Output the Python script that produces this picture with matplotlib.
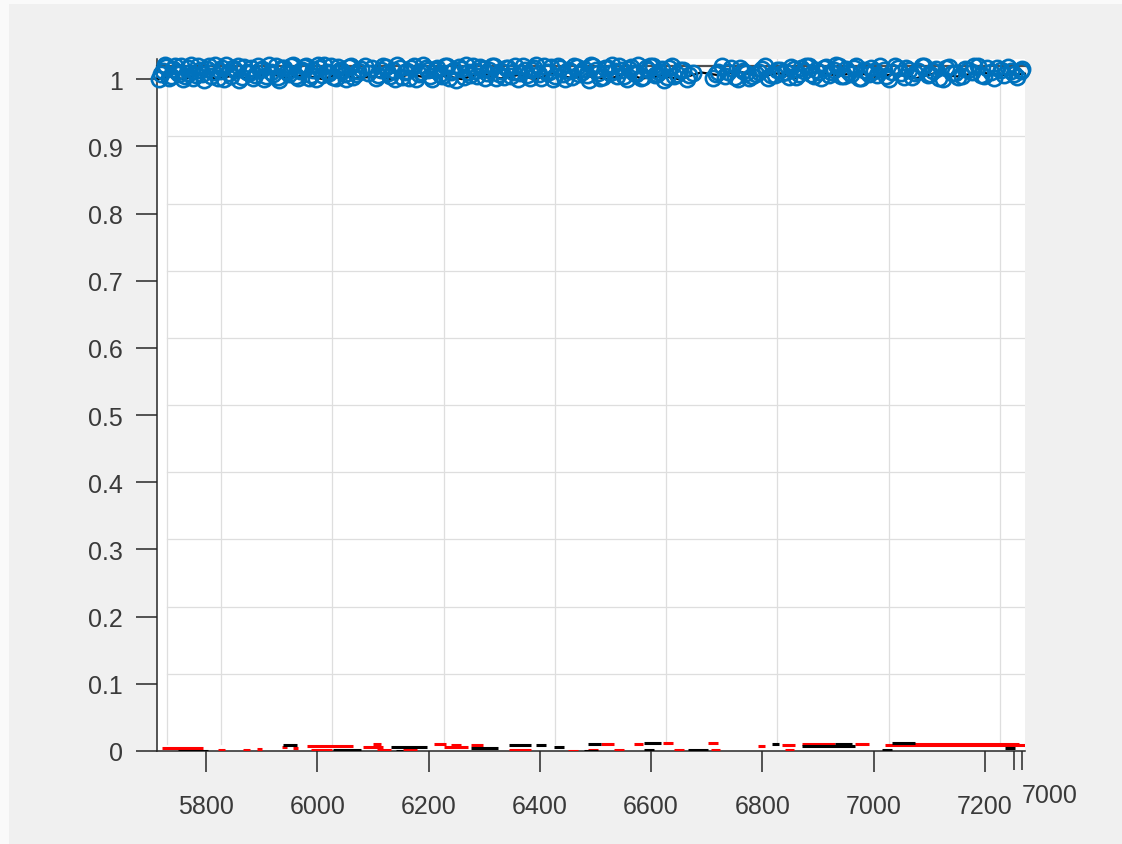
"""Recreate a MATLAB-style 3D scatter viewed nearly head on."""

from __future__ import annotations

import matplotlib

matplotlib.use("Agg")
import matplotlib.pyplot as plt
from matplotlib.patches import Rectangle
from matplotlib.transforms import ScaledTranslation

# blue circles along the top (value ~1), two interleaved batches
blue_x = [
    5716, 5723, 5729, 5737, 5744, 5752, 5758, 5767, 5773, 5782, 5790, 5797,
    5806, 5812, 5821, 5829, 5836, 5845, 5853, 5860, 5869, 5877, 5884, 5893,
    5901, 5908, 5917, 5925, 5932, 5941, 5949, 5956, 5965, 5973, 5980, 5989,
    5997, 6004, 6013, 6021, 6028, 6037, 6045, 6052, 6061, 6069, 6078, 6092,
    6106, 6115, 6124, 6131, 6140, 6149, 6157, 6165, 6173, 6182, 6190, 6199,
    6207, 6216, 6224, 6233, 6241, 6250, 6258, 6267, 6275, 6284, 6292, 6301,
    6309, 6318, 6326, 6335, 6343, 6352, 6360, 6369, 6377, 6386, 6394, 6403,
    6411, 6420, 6428, 6437, 6445, 6454, 6462, 6471, 6479, 6488, 6496, 6505,
    6513, 6522, 6530, 6539, 6547, 6556, 6564, 6573, 6581, 6590, 6598, 6607,
    6615, 6624, 6632, 6641, 6652, 6664, 6675, 6712, 6721, 6733, 6744, 6756,
    6765, 6776, 6788, 6799, 6810, 6822, 6831, 6842, 6851, 6860, 6869, 6878,
    6887, 6896, 6905, 6914, 6923, 6932, 6941, 6950, 6959, 6968, 6977, 6986,
    6995, 7006, 7018, 7027, 7038, 7049, 7058, 7069, 7080, 7091, 7102, 7112,
    7124, 7135, 7147, 7158, 7170, 7181, 7193, 7204, 7216, 7229, 7241, 7252,
    7264,
]
blue_y = [
    1.000, 1.012, 1.018, 1.004, 1.020, 1.008, 1.000, 1.016, 1.021, 1.006,
    1.014, 0.999, 1.019, 1.010, 1.002, 1.017, 1.021, 1.005, 1.013, 0.998,
    1.018, 1.009, 1.001, 1.020, 1.015, 1.004, 1.011, 1.019, 0.999, 1.016,
    1.007, 1.021, 1.002, 1.014, 1.019, 1.006, 1.000, 1.017, 1.021, 1.009,
    1.003, 1.018, 1.012, 1.000, 1.020, 1.007, 1.015, 1.009, 1.002, 1.013,
    1.018, 1.005, 1.000, 1.016, 1.010, 1.002, 1.019, 1.007, 1.021, 1.013,
    1.000, 1.017, 1.004, 1.020, 1.011, 0.999, 1.015, 1.021, 1.006, 1.012,
    1.018, 1.001, 1.014, 1.020, 1.008, 1.003, 1.017, 1.011, 1.000, 1.019,
    1.006, 1.014, 1.021, 1.002, 1.010, 1.018, 1.004, 1.016, 1.000, 1.012,
    1.020, 1.007, 1.015, 0.999, 1.019, 1.009, 1.003, 1.017, 1.021, 1.005,
    1.013, 1.000, 1.018, 1.008, 1.002, 1.016, 1.020, 1.006, 1.011, 0.999,
    1.017, 1.004, 1.014, 1.000, 1.009, 1.002, 1.011, 1.004, 1.016, 1.000,
    1.012, 1.002, 1.008, 1.015, 1.001, 1.006, 1.013, 1.010, 1.018, 1.003,
    1.016, 1.020, 1.007, 1.013, 1.001, 1.018, 1.010, 1.021, 1.004, 1.015,
    1.008, 1.019, 1.002, 1.012, 1.017, 1.006, 1.014, 1.000, 1.019, 1.009,
    1.016, 1.003, 1.012, 1.019, 1.007, 1.015, 1.000, 1.018, 1.009, 1.004,
    1.014, 1.019, 1.006, 1.016, 1.002, 1.013, 1.018, 1.007, 1.012,
]
blue_x2 = [
    5719, 5726, 5733, 5741, 5748, 5755, 5762, 5770, 5777, 5786, 5793, 5801,
    5809, 5817, 5825, 5833, 5841, 5849, 5857, 5865, 5873, 5881, 5889, 5897,
    5905, 5913, 5921, 5929, 5937, 5945, 5953, 5961, 5969, 5977, 5985, 5993,
    6001, 6009, 6017, 6025, 6033, 6041, 6049, 6057, 6065, 6073, 6085, 6099,
    6110, 6119, 6128, 6136, 6144, 6153, 6161, 6169, 6178, 6186, 6195, 6203,
    6212, 6220, 6229, 6237, 6246, 6254, 6263, 6271, 6280, 6288, 6297, 6305,
    6314, 6322, 6331, 6339, 6348, 6356, 6365, 6373, 6382, 6390, 6399, 6407,
    6416, 6424, 6433, 6441, 6450, 6458, 6467, 6475, 6484, 6492, 6501, 6509,
    6518, 6526, 6535, 6543, 6552, 6560, 6569, 6577, 6586, 6594, 6603, 6611,
    6620, 6628, 6637, 6646, 6658, 6669, 6716, 6727, 6739, 6750, 6760, 6771,
    6782, 6794, 6805, 6816, 6827, 6836, 6847, 6856, 6865, 6874, 6883, 6892,
    6901, 6910, 6919, 6928, 6937, 6946, 6955, 6964, 6973, 6982, 6991, 7001,
    7012, 7022, 7033, 7044, 7054, 7064, 7075, 7086, 7097, 7107, 7118, 7130,
    7141, 7152, 7164, 7176, 7187, 7199, 7210, 7222, 7235, 7247, 7258, 7266,
]
blue_y2 = [
    1.008, 1.021, 1.002, 1.015, 1.011, 1.019, 1.004, 1.009, 1.001, 1.019, 1.007, 1.015,
    1.004, 1.021, 1.012, 1.000, 1.009, 1.016, 1.020, 1.003, 1.011, 1.017, 1.006, 1.013,
    1.000, 1.021, 1.008, 1.003, 1.016, 1.010, 1.020, 1.005, 1.012, 1.018, 1.001, 1.014,
    1.021, 1.006, 1.011, 1.019, 1.002, 1.014, 1.008, 1.018, 1.003, 1.012, 1.020, 1.016,
    1.006, 1.020, 1.009, 1.014, 1.021, 1.003, 1.012, 1.016, 1.000, 1.010, 1.017, 1.005,
    1.014, 1.008, 1.019, 1.001, 1.013, 1.018, 1.003, 1.010, 1.020, 1.005, 1.015, 1.009,
    1.019, 1.002, 1.012, 1.016, 1.005, 1.020, 1.009, 1.014, 1.001, 1.017, 1.007, 1.019,
    1.011, 1.000, 1.020, 1.008, 1.014, 1.003, 1.018, 1.011, 1.006, 1.021, 1.013, 1.001,
    1.017, 1.009, 1.012, 1.019, 1.004, 1.015, 1.009, 1.021, 1.003, 1.013, 1.019, 1.007,
    1.015, 1.003, 1.019, 1.008, 1.014, 1.006, 1.008, 1.019, 1.010, 1.003, 1.017, 1.009,
    1.004, 1.011, 1.019, 1.006, 1.014, 1.009, 1.003, 1.015, 1.007, 1.012, 1.019, 1.004,
    1.011, 1.017, 1.006, 1.013, 1.020, 1.005, 1.011, 1.017, 1.002, 1.014, 1.008, 1.012,
    1.020, 1.005, 1.011, 1.017, 1.003, 1.013, 1.009, 1.020, 1.006, 1.012, 1.001, 1.016,
    1.009, 1.003, 1.015, 1.010, 1.020, 1.004, 1.011, 1.017, 1.006, 1.012, 1.003, 1.015,
]

# black trace hugging the top
black_top_x = [
    5712, 5735, 5760, 5790, 5815, 5850, 5880, 5910, 5945, 5975, 6010, 6040,
    6070, 6100, 6135, 6165, 6200, 6230, 6260, 6295, 6330, 6360, 6390, 6425,
    6455, 6490, 6520, 6555, 6585, 6620, 6650, 6690, 6720, 6760, 6795, 6830,
    6860, 6900, 6935, 6970, 7005, 7040, 7075, 7110, 7150, 7190, 7230, 7272,
]
black_top_y = [
    1.000, 1.004, 1.000, 1.007, 1.001, 1.005, 1.000, 1.009, 1.002, 1.006,
    1.000, 1.008, 1.001, 1.004, 1.000, 1.007, 1.002, 1.005, 1.000, 1.009,
    1.001, 1.006, 1.000, 1.008, 1.002, 1.004, 1.000, 1.007, 1.001, 1.005,
    1.000, 1.010, 1.006, 1.011, 1.004, 1.009, 1.002, 1.011, 1.005, 1.010,
    1.003, 1.008, 1.001, 1.009, 1.004, 1.010, 1.006, 1.008,
]

# short red / black segments near zero: start, end, value
red_start = [
    5721, 5822, 5867, 5892, 5937, 5957, 5982, 5988, 6083, 6101, 6108, 6155,
    6209, 6227, 6240, 6276, 6344, 6451, 6487, 6510, 6534, 6570, 6622, 6642,
    6703, 6708, 6793, 6835, 6840, 6871, 6966, 7020, 7051,
]
red_end = [
    5795, 5834, 5880, 5901, 5946, 5966, 6065, 6027, 6119, 6114, 6132, 6180,
    6231, 6271, 6258, 6298, 6384, 6469, 6505, 6534, 6552, 6586, 6640, 6660,
    6721, 6723, 6804, 6858, 6856, 6930, 6991, 7272, 7261,
]
red_val = [
    0.005, 0.001, 0.001, 0.003, 0.006, 0.004, 0.008, 0.002, 0.006, 0.010,
    0.001, 0.002, 0.011, 0.006, 0.009, 0.009, 0.002, 0.000, 0.002, 0.010,
    0.002, 0.010, 0.012, 0.002, 0.012, 0.002, 0.008, 0.009, 0.002, 0.011,
    0.010, 0.009, 0.011,
]
black_start = [
    5750, 5939, 6029, 6132, 6141, 6276, 6344, 6393, 6425, 6487, 6480, 6588,
    6588, 6667, 6817, 6871, 6930, 7015, 7033, 7236,
]
black_end = [
    5804, 5964, 6078, 6198, 6155, 6325, 6384, 6411, 6443, 6510, 6505, 6618,
    6606, 6703, 6829, 6966, 6961, 7033, 7074, 7254,
]
black_val = [
    0.000, 0.009, 0.002, 0.006, 0.000, 0.004, 0.009, 0.009, 0.006, 0.011,
    0.000, 0.012, 0.001, 0.002, 0.010, 0.007, 0.011, 0.002, 0.012, 0.004,
]

x_ticks = [5800, 6000, 6200, 6400, 6600, 6800, 7000, 7200]
y_ticks = [0, 0.1, 0.2, 0.3, 0.4, 0.5, 0.6, 0.7, 0.8, 0.9, 1]
y_labels = ["0", "0.1", "0.2", "0.3", "0.4", "0.5", "0.6", "0.7", "0.8", "0.9", "1"]

BG = "#f0f0f0"
AXIS_COLOR = "#262626"
LABEL_COLOR = "#3a3a3a"
GRID_COLOR = "#dedede"
BLUE = "#0072BD"
DPI = 100


def _back_grid(ax, fig) -> None:
    """Grid of the back wall, shifted like MATLAB's 3D box."""
    shift_x = ScaledTranslation(15 / DPI, 0, fig.dpi_scale_trans)
    shift_y = ScaledTranslation(0, 10 / DPI, fig.dpi_scale_trans)
    for t in x_ticks:
        ax.plot([t, t], [0.01, 1], transform=ax.get_xaxis_transform() + shift_x,
                color=GRID_COLOR, lw=0.9, zorder=0.5)
    ax.plot([0, 0], [0.01, 1], transform=ax.transAxes
            + ScaledTranslation(10 / DPI, 0, fig.dpi_scale_trans),
            color=GRID_COLOR, lw=0.9, zorder=0.5)
    for t in y_ticks[1:-1]:
        ax.plot([0.012, 1], [t, t], transform=ax.get_yaxis_transform() + shift_y,
                color=GRID_COLOR, lw=0.9, zorder=0.5)
    # top edge of the back wall
    ax.plot([0, 1], [1, 1], transform=ax.get_yaxis_transform()
            + ScaledTranslation(0, 13 / DPI, fig.dpi_scale_trans),
            color="#505050", lw=1.6, zorder=2, clip_on=False)


def main() -> None:
    plt.rcParams["font.family"] = ["Liberation Sans", "DejaVu Sans"]
    fig = plt.figure(figsize=(1122 / DPI, 845 / DPI), dpi=DPI, facecolor=BG)

    # screenshot frame strips
    fig.patches.append(Rectangle((0, 0), 9 / 1122, 1, transform=fig.transFigure,
                                 facecolor="#fafafa", edgecolor="none"))
    fig.patches.append(Rectangle((0, 1 - 5 / 845), 1, 5 / 845, transform=fig.transFigure,
                                 facecolor="#fafafa", edgecolor="none"))

    ax = fig.add_axes([157 / 1122, 93 / 845, 868 / 1122, 692 / 845])
    ax.set_facecolor("white")
    ax.set_xlim(5712, 7272)
    ax.set_ylim(0, 1.03)

    _back_grid(ax, fig)

    ax.plot(black_top_x, black_top_y, color="black", lw=1.6, zorder=3, clip_on=False)
    ax.hlines(red_val, red_start, red_end, color="#ff0000", lw=2.2, zorder=3)
    ax.hlines(black_val, black_start, black_end, color="black", lw=2.2, zorder=3)
    for xs, ys in ((blue_x, blue_y), (blue_x2, blue_y2)):
        ax.plot(xs, ys, linestyle="none", marker="o", markersize=11,
                markerfacecolor="none", markeredgecolor=BLUE, markeredgewidth=1.9,
                zorder=4, clip_on=False)

    for side in ("top", "right"):
        ax.spines[side].set_visible(False)
    for side in ("left", "bottom"):
        ax.spines[side].set_color(AXIS_COLOR)
        ax.spines[side].set_linewidth(1.1)

    ax.set_xticks(x_ticks)
    ax.set_xticks([7253, 7267], minor=True)
    ax.set_yticks(y_ticks, y_labels)
    ax.tick_params(axis="x", which="major", direction="out", length=15, width=1.1,
                   color=AXIS_COLOR, labelcolor=LABEL_COLOR, labelsize=18, pad=16)
    ax.tick_params(axis="x", which="minor", direction="out", length=14, width=1.1,
                   color=AXIS_COLOR)
    ax.tick_params(axis="y", direction="out", length=15, width=1.1,
                   color=AXIS_COLOR, labelcolor=LABEL_COLOR, labelsize=18, pad=9.5)

    ax.text(1.029, -0.064, "7000", transform=ax.transAxes, ha="center", va="center",
            fontsize=18, color=LABEL_COLOR)

    fig.savefig("out.png", dpi=DPI, facecolor=BG)
    plt.close(fig)


if __name__ == "__main__":
    main()
